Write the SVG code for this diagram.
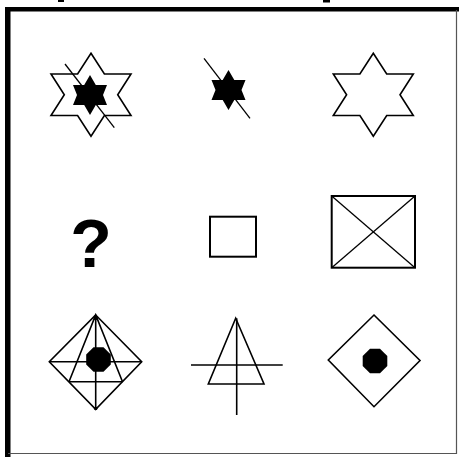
<svg xmlns="http://www.w3.org/2000/svg" width="459" height="457" viewBox="0 0 459 457">
<style>
.o{fill:none;stroke:#000;stroke-width:1.6;stroke-linejoin:miter}
.t{fill:none;stroke:#000;stroke-width:1.3}
.f{fill:#000;stroke:none}
.b{fill:none;stroke:#000;stroke-width:2}
</style>
<defs>
<path id="bigstar" d="M0,-41.5 L13.4,-20.75 L40,-20.75 L26.7,0 L40,20.75 L13.4,20.75 L0,41.5 L-13.4,20.75 L-40,20.75 L-26.7,0 L-40,-20.75 L-13.4,-20.75 Z"/>
<path id="smallstar" d="M0,-20 L5.8,-10 L17,-10 L13,0 L17,10 L5.8,10 L0,20 L-5.8,10 L-17,10 L-13,0 L-17,-10 L-5.8,-10 Z"/>
<polygon id="oct" points="-5,-12.3 5,-12.3 12.3,-5 12.3,5 5,12.3 -5,12.3 -12.3,5 -12.3,-5"/>
</defs>
<rect width="459" height="457" fill="#fff"/>
<g id="frame">
<rect x="5" y="7" width="454" height="4.5" fill="#000"/>
<rect x="5" y="7" width="5.5" height="450" fill="#000"/>
<line x1="456.5" y1="10" x2="456.5" y2="454" stroke="#555" stroke-width="1.2"/>
<line x1="8" y1="453.5" x2="457" y2="453.5" stroke="#555" stroke-width="1.2"/>
<rect x="58" y="0" width="6" height="2" fill="#000"/>
<rect x="323" y="0" width="7" height="2.5" fill="#000"/>
</g>
<g id="star1">
<use href="#bigstar" class="o" transform="translate(91,94.7)"/>
<use href="#smallstar" class="f" transform="translate(90,95)"/>
<line x1="65" y1="64" x2="114.3" y2="127.7" class="t"/>
</g>
<g id="star2">
<use href="#smallstar" class="f" transform="translate(228.5,90)"/>
<line x1="204" y1="58.3" x2="250" y2="118.3" class="t"/>
</g>
<g id="star3">
<use href="#bigstar" class="o" transform="translate(373.3,94.7)"/>
</g>
<g id="question">
<text x="91" y="267" text-anchor="middle" font-family="Liberation Sans, Arial, sans-serif" font-weight="bold" font-size="68" fill="#000">?</text>
</g>
<g id="square">
<rect x="210" y="216.7" width="46" height="40" class="b"/>
</g>
<g id="xbox">
<rect x="331.7" y="196" width="83.3" height="71.7" class="b"/>
<line x1="331.7" y1="196" x2="415" y2="267.7" class="t"/>
<line x1="415" y1="196" x2="331.7" y2="267.7" class="t"/>
</g>
<g id="diamond1">
<polygon points="95.7,315 141.7,361.7 95.7,409.3 49.3,361.7" class="o"/>
<line x1="49.3" y1="361.7" x2="141.7" y2="361.7" class="o"/>
<line x1="95.7" y1="315" x2="95.7" y2="409.3" class="o"/>
<polyline points="69,381.7 95.7,315 122.5,381.7" class="o"/>
<line x1="69" y1="381.7" x2="122.5" y2="381.7" class="o"/>
<use href="#oct" class="f" transform="translate(98.5,359.5)"/>
<circle cx="95.7" cy="318" r="2.2" class="f"/>
<circle cx="95.7" cy="408.5" r="1.8" class="f"/>
</g>
<g id="triangle">
<polygon points="235.7,318.3 264,384 208.3,384" class="o"/>
<line x1="191" y1="365" x2="282.7" y2="365" class="o"/>
<line x1="236.7" y1="318.3" x2="236.7" y2="415" class="o"/>
</g>
<g id="diamond2">
<polygon points="374,315 420,360.5 374,406.7 328.3,360" class="o"/>
<use href="#oct" class="f" transform="translate(375,361)"/>
</g>
</svg>
